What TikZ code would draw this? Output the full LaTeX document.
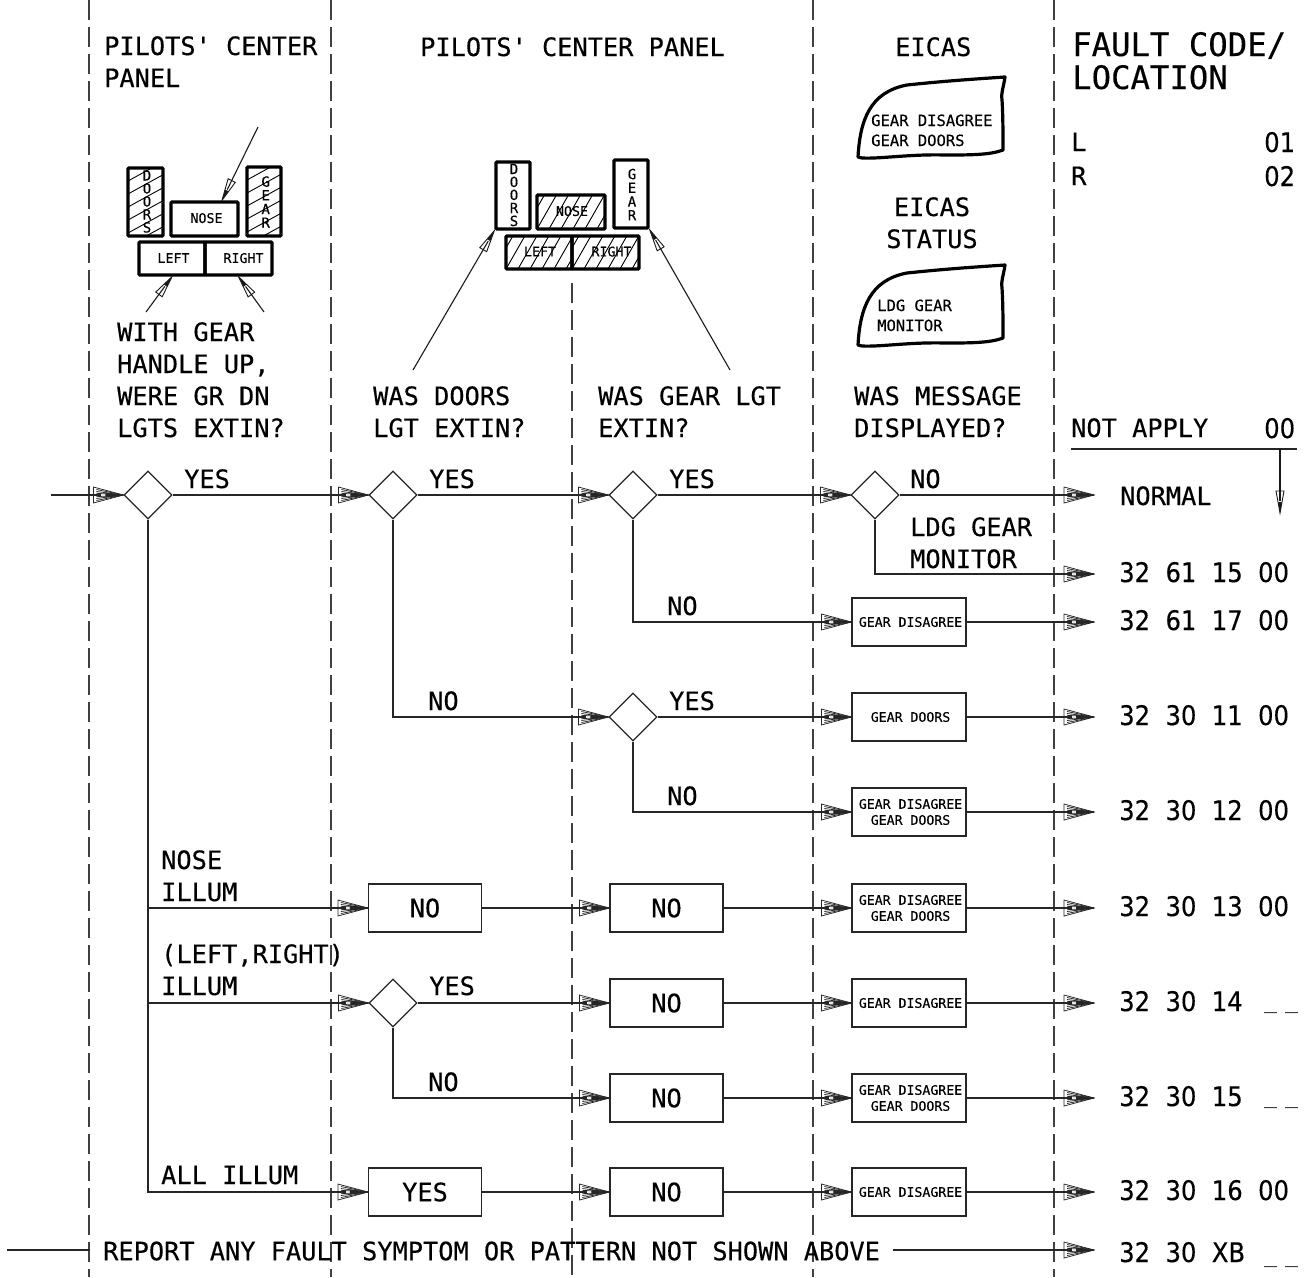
\documentclass[tikz,border=0pt]{standalone}
\usepackage{fontspec}
\usetikzlibrary{arrows.meta,shapes.geometric}
\setmonofont[FakeBold=0.35]{DejaVu Sans Mono}
\renewcommand{\familydefault}{\ttdefault}
\newfontfamily\numfont[WordSpace=2,FakeBold=0.35]{DejaVu Sans Condensed}
\newfontfamily\usfont[WordSpace=0.6]{DejaVu Sans Mono}
\newcommand{\ind}{\hspace*{3pt}}
\pgfdeclarearrow{
  name=Fan,
  setup code={
    \pgfarrowssettipend{0pt}
    \pgfarrowssetlineend{-22pt}
    \pgfarrowssetbackend{-30pt}
    \pgfarrowshullpoint{0pt}{0pt}
    \pgfarrowshullpoint{-30pt}{8pt}
    \pgfarrowshullpoint{-30pt}{-8pt}
  },
  drawing code={
    \pgfsetlinewidth{0.75pt}
    \pgfsetmiterjoin
    \pgfpathmoveto{\pgfpoint{-30pt}{8pt}}
    \pgfpathlineto{\pgfpoint{0pt}{0pt}}
    \pgfpathlineto{\pgfpoint{-30pt}{-8pt}}
    \pgfpathclose
    \pgfusepathqstroke
    \foreach \v in {5.5pt,3.5pt,1.7pt,-1.7pt,-3.5pt,-5.5pt}{
      \pgfpathmoveto{\pgfpoint{-27pt}{\v}}
      \pgfpathlineto{\pgfpoint{0pt}{0pt}}
      \pgfusepathqstroke
    }
    \pgfpathmoveto{\pgfpoint{-18pt}{2.5pt}}
    \pgfpathlineto{\pgfpoint{0pt}{0pt}}
    \pgfpathlineto{\pgfpoint{-18pt}{-2.5pt}}
    \pgfpathclose
    \pgfusepathqfill
  },
  parameters={0}
}
\pgfdeclarearrow{
  name=Slim,
  setup code={
    \pgfarrowssettipend{0pt}
    \pgfarrowssetlineend{-12pt}
    \pgfarrowssetbackend{-22pt}
    \pgfarrowshullpoint{0pt}{0pt}
    \pgfarrowshullpoint{-22pt}{4pt}
    \pgfarrowshullpoint{-22pt}{-4pt}
  },
  drawing code={
    \pgfsetlinewidth{0.9pt}
    \pgfsetmiterjoin
    \pgfpathmoveto{\pgfpoint{-22pt}{4pt}}
    \pgfpathlineto{\pgfpoint{0pt}{0pt}}
    \pgfpathlineto{\pgfpoint{-22pt}{-4pt}}
    \pgfpathclose
    \pgfusepathqstroke
    \pgfpathmoveto{\pgfpoint{-11pt}{1.8pt}}
    \pgfpathlineto{\pgfpoint{0pt}{0pt}}
    \pgfpathlineto{\pgfpoint{-11pt}{-1.8pt}}
    \pgfpathclose
    \pgfusepathqfill
  },
  parameters={0}
}
\tikzset{
  col/.style={draw=black!75,line width=1.1pt,dash pattern=on 20pt off 7pt},
  wire/.style={draw=black!85,line width=1.2pt},
  arr/.style={wire,-Fan},
  thin arr/.style={draw=black!90,line width=1.1pt,-Slim},
  lab/.style={inner sep=0pt,anchor=base west,align=left,yshift=1pt,font=\fontsize{25.3}{32}\selectfont},
  big/.style={inner sep=0pt,anchor=base west,align=left,font=\fontsize{32.3}{33}\selectfont},
  eicastxt/.style={inner sep=0pt,anchor=base west,align=left,font=\fontsize{15.5}{20}\selectfont},
  num/.style={inner sep=0pt,anchor=base west,font=\numfont\fontsize{27}{32}\selectfont},
  codetxt/.style={inner ysep=0pt,inner xsep=25pt,anchor=west,text depth=4pt,font=\numfont\fontsize{27}{32}\selectfont},
  blank/.style={inner sep=0pt,anchor=base west,font=\usfont\fontsize{21.6}{24}\selectfont},
  dec/.style={draw=black!85,line width=1.2pt,diamond,aspect=1,minimum width=48pt,minimum height=48pt,inner sep=0pt},
  box/.style={draw=black!85,line width=1.2pt,minimum width=113pt,minimum height=48pt,inner sep=0pt,align=center,font=\fontsize{25.3}{32}\selectfont},
  msg/.style={box,minimum width=114pt,font=\fontsize{13.2}{16}\selectfont},
  panel/.style={draw=black,line width=3.4pt,rounded corners=1pt,inner sep=0pt,align=center,font=\fontsize{13.3}{13}\selectfont},
  stacktxt/.style={inner sep=0pt,align=center,font=\fontsize{14}{13}\selectfont},
  stacktxtb/.style={stacktxt,font=\fontsize{14}{13.7}\selectfont},
  hatchline/.style={draw=black,line width=0.9pt},
  eicas/.style={draw=black,line width=3.2pt,line join=round},
}
\newcommand{\hatchshallow}[4]{%
  \begin{scope}
    \clip (#1,#2) rectangle (#3,#4);
    \foreach \i in {0,...,8} \draw[hatchline] (#1,#2+13*\i) -- ++(60,-33);
  \end{scope}}
\newcommand{\hatchsteep}[4]{%
  \begin{scope}
    \clip (#1,#2) rectangle (#3,#4);
    \foreach \i in {-3,...,13} \draw[hatchline] (#1+12*\i,#4) -- ++(24,-42);
  \end{scope}}
\newcommand{\eicasshape}{%
  (858,157) .. controls (860,120) and (870,92) .. (907,85)
  .. controls (945,81) and (975,79) .. (1005,77)
  .. controls (1003,90) and (1001,92) .. (1002,100)
  .. controls (1003,115) and (1003,135) .. (1003,150)
  .. controls (990,155) and (970,155) .. (945,155)
  .. controls (910,154) and (880,159) .. (862,158) -- cycle}
\begin{document}
\begin{tikzpicture}[x=1pt,y=-1pt]
\useasboundingbox (0,0) rectangle (1305,1277);
% column rules
\draw[col] (89,0) -- (89,1277);
\draw[col] (331,0) -- (331,1277);
\draw[col] (572,283) -- (572,1277);
\draw[col] (813,0) -- (813,1277);
\draw[col] (1054,0) -- (1054,1277);
% column headings
\node[lab] (h1) at (104,88) {PILOTS' CENTER\\PANEL};
\node[lab] (h2) at (420,57) {PILOTS' CENTER PANEL};
\node[lab] (h3) at (895,57) {EICAS};
\node[big] (h4) at (1072,89) {FAULT CODE/\\LOCATION};
\node[lab] (h5) at (932,249) [anchor=base,align=center] {EICAS\\STATUS};
\node[lab] (locL) at (1071,152) {L};
\node[num] (locLn) at (1264,152) {01};
\node[lab] (locR) at (1071,186) {R};
\node[num] (locRn) at (1264,186) {02};
% EICAS messages
\draw[eicas] \eicasshape;
\draw[eicas,shift={(0,188)}] \eicasshape;
\node[eicastxt] (e1) at (871,146) {GEAR DISAGREE\\GEAR DOORS};
\node[eicastxt] (e2) at (877,331) {LDG GEAR\\MONITOR};
% panel 1
\hatchshallow{128}{168}{163}{236}
\hatchshallow{247}{167}{281}{236}
\node[panel,minimum width=35pt,minimum height=68pt] (p1doors) at (145.5,202) {};
\node[stacktxt] (p1doorsT) at (147,201.5) {D\\O\\O\\R\\S};
\node[panel,minimum width=67pt,minimum height=34pt] (p1nose) at (204.5,219) {\hspace*{4pt}\raisebox{2pt}{NOSE}};
\node[panel,minimum width=34pt,minimum height=69pt] (p1gear) at (264,201.5) {};
\node[stacktxtb] (p1gearT) at (265.7,202) {G\\E\\A\\R};
\node[panel,minimum width=66pt,minimum height=33pt] (p1left) at (172,258.5) {\hspace*{3pt}\raisebox{1pt}{LEFT}};
\node[panel,minimum width=67pt,minimum height=33pt] (p1right) at (238.5,258.5) {\hspace*{10pt}\raisebox{1pt}{RIGHT}};
\coordinate (a1) at (258,127);
\coordinate (a2) at (146,312);
\coordinate (a3) at (264,312);
\draw[thin arr] (a1) -- ([xshift=17.5pt]p1nose.north);
\draw[thin arr] (a2) -- (p1left.south);
\draw[thin arr] (a3) -- (p1right.south);
% panel 2
\hatchsteep{537}{195}{605}{229}
\hatchsteep{506}{236}{572}{269}
\hatchsteep{572}{236}{639}{269}
\node[panel,minimum width=34pt,minimum height=67pt] (p2doors) at (513,195.5) {};
\node[stacktxt] (p2doorsT) at (514,195) {D\\O\\O\\R\\S};
\node[panel,minimum width=68pt,minimum height=34pt] (p2nose) at (571,212) {\hspace*{2pt}\raisebox{2pt}{NOSE}};
\node[panel,minimum width=34pt,minimum height=68pt] (p2gear) at (631,194) {};
\node[stacktxtb] (p2gearT) at (632,194.5) {G\\E\\A\\R};
\node[panel,minimum width=66pt,minimum height=33pt] (p2left) at (539,252.5) {\hspace*{2pt}\raisebox{2pt}{LEFT}};
\node[panel,minimum width=67pt,minimum height=33pt] (p2right) at (605.5,252.5) {\hspace*{12pt}\raisebox{2pt}{RIGHT}};
\coordinate (a4) at (413,370);
\coordinate (a5) at (730,370);
\draw[thin arr] (a4) -- (p2doors.south west);
\draw[thin arr] (a5) -- (p2gear.south east);
% questions
\node[lab] (q1) at (117,438) {WITH GEAR\\HANDLE UP,\\WERE GR DN\\LGTS EXTIN?};
\node[lab] (q2) at (373,438) {WAS DOORS\\LGT EXTIN?};
\node[lab] (q3) at (598,438) {WAS GEAR LGT\\EXTIN?};
\node[lab] (q4) at (854,438) {WAS MESSAGE\\DISPLAYED?};
\node[lab] (na) at (1071,438) {NOT APPLY};
\node[num] (nan) at (1264,438) {00};
\coordinate (rs) at (1071,449);
\coordinate (re) at (1297,449);
\coordinate (rv) at (1280,449);
\coordinate (rt) at (1280,513);
\draw[wire] (rs) -- (re);
\draw[thin arr] (rv) -- (rt);
% decisions
\node[dec] (d1) at (148,495) {};
\node[dec] (d2) at (393,495) {};
\node[dec] (d3) at (633,495) {};
\node[dec] (d4) at (875,495) {};
\node[dec] (d5) at (633,717) {};
\node[dec] (d6) at (393,1003) {};
% boxes
\node[msg] (m1) at (909,622) {\ind GEAR DISAGREE};
\node[msg] (m2) at (909,717) {\ind GEAR DOORS};
\node[msg] (m3) at (909,812) {\ind GEAR DISAGREE\\\ind GEAR DOORS};
\node[box] (b1) at (425,908) {NO};
\node[box] (c1) at (666.5,908) {NO};
\node[msg] (m4) at (909,908) {\ind GEAR DISAGREE\\\ind GEAR DOORS};
\node[box] (c2) at (666.5,1003) {NO};
\node[msg] (m5) at (909,1003) {\ind GEAR DISAGREE};
\node[box] (c3) at (666.5,1098) {NO};
\node[msg] (m6) at (909,1098) {\ind GEAR DISAGREE\\\ind GEAR DOORS};
\node[box] (b2) at (425,1192) {YES};
\node[box] (c4) at (666.5,1192) {NO};
\node[msg] (m7) at (909,1192) {\ind GEAR DISAGREE};
% fault codes
\node[lab] (normal) at (1120,506) {NORMAL};
\coordinate (normalEnd) at (1094,495);
\node[codetxt] (k1) at (1094,574) {32 61 15 00};
\node[codetxt] (k2) at (1094,622) {32 61 17 00};
\node[codetxt] (k3) at (1094,717) {32 30 11 00};
\node[codetxt] (k4) at (1094,812) {32 30 12 00};
\node[codetxt] (k5) at (1094,908) {32 30 13 00};
\node[codetxt] (k6) at (1094,1003) {32 30 14};
\node[codetxt] (k7) at (1094,1098) {32 30 15};
\node[codetxt] (k8) at (1094,1192) {32 30 16 00};
\node[codetxt,text depth=0pt,text height=24pt] (k9) at (1094,1250) {32 30 XB};
\node[blank] (u6) at (1264,1008) {\_ \_};
\node[blank] (u7) at (1264,1103) {\_ \_};
\node[blank] (u9) at (1264,1262) {\_ \_};
% report line
\node[lab,anchor=west,inner xsep=13pt] (rep) at (90,1252) {REPORT ANY FAULT SYMPTOM OR PATTERN NOT SHOWN ABOVE};
\coordinate (repStart) at (7,1250);
\draw[wire] (repStart) -- (rep.west |- repStart);
\draw[arr] (rep.east |- k9.west) -- (k9.west);
% entry and top row
\coordinate (entry) at (51,495);
\draw[arr] (entry) -- (d1.west);
\draw[arr] (d1.east) -- (d2.west);
\draw[arr] (d2.east) -- (d3.west);
\draw[arr] (d3.east) -- (d4.west);
\draw[arr] (d4.east) -- (normalEnd);
\draw[arr] (d4.south) |- (k1.west);
\draw[arr] (d3.south) |- (m1.west);
\draw[arr] (d2.south) |- (d5.west);
\draw[arr] (d5.east) -- (m2.west);
\draw[arr] (d5.south) |- (m3.west);
\draw[arr] (m1.east) -- (k2.west);
\draw[arr] (m2.east) -- (k3.west);
\draw[arr] (m3.east) -- (k4.west);
% main trunk
\draw[arr] (d1.south) |- (b1.west);
\draw[arr] (d1.south) |- (d6.west);
\draw[arr] (d1.south) |- (b2.west);
\draw[arr] (b1.east) -- (c1.west);
\draw[arr] (c1.east) -- (m4.west);
\draw[arr] (m4.east) -- (k5.west);
\draw[arr] (d6.east) -- (c2.west);
\draw[arr] (c2.east) -- (m5.west);
\draw[arr] (m5.east) -- (k6.west);
\draw[arr] (d6.south) |- (c3.west);
\draw[arr] (c3.east) -- (m6.west);
\draw[arr] (m6.east) -- (k7.west);
\draw[arr] (b2.east) -- (c4.west);
\draw[arr] (c4.east) -- (m7.west);
\draw[arr] (m7.east) -- (k8.west);
% edge labels
\node[lab] (t1) at (184,489) {YES};
\node[lab] (t2) at (429,489) {YES};
\node[lab] (t3) at (669,489) {YES};
\node[lab] (t4) at (910,489) {NO};
\node[lab] (t5) at (910,569) {LDG GEAR\\MONITOR};
\node[lab] (t6) at (667,616) {NO};
\node[lab] (t7) at (428,711) {NO};
\node[lab] (t8) at (669,711) {YES};
\node[lab] (t9) at (667,806) {NO};
\node[lab] (t10) at (161,902) {NOSE\\ILLUM};
\node[lab] (t11) at (161,996) {(LEFT,RIGHT)\\ILLUM};
\node[lab] (t12) at (429,996) {YES};
\node[lab] (t13) at (428,1092) {NO};
\node[lab] (t14) at (161,1185) {ALL ILLUM};
\end{tikzpicture}
\end{document}
